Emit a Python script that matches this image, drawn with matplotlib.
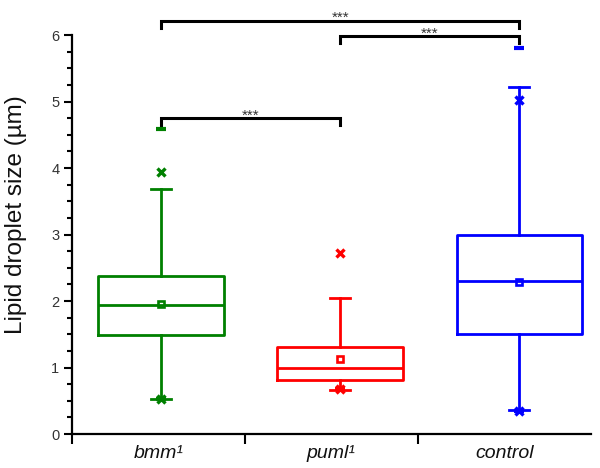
import matplotlib
matplotlib.use("Agg")
import matplotlib.pyplot as plt
from matplotlib.ticker import MultipleLocator, FixedLocator

plt.rcParams['font.family'] = ['Liberation Sans', 'DejaVu Sans']

# ---- data ----
categories = ["bmm\u00b9", "puml\u00b9", "control"]
colors = ["#008000", "#FF0000", "#0000FF"]
q1 = [1.49, 0.81, 1.50]
median = [1.94, 0.99, 2.30]
q3 = [2.37, 1.31, 2.99]
mean = [1.95, 1.13, 2.29]
whisker_low = [0.52, 0.66, 0.36]
whisker_high = [3.68, 2.05, 5.22]
pct_low = [0.53, 0.68, 0.35]      # x markers (1st percentile)
pct_high = [3.94, 2.72, 5.03]     # x markers (99th percentile)
data_min = [0.52, 0.67, 0.35]
data_max = [4.58, float('nan'), 5.80]   # puml max hidden under its x marker

# significance brackets: (left group, right group, height, label)
brackets = [(0, 2, 6.215, "***"), (1, 2, 5.985, "***"), (0, 1, 4.75, "***")]
bracket_drop = 0.11

positions = [1, 2, 3]
boundary_ticks = [0.503, 1.469, 2.434]
label_pos = [0.986, 1.951, 2.917]

fig = plt.figure(figsize=(6.0, 4.68), dpi=100)
ax = fig.add_axes([0.12, 0.0726, 0.865, 0.8526])

stats = []
for i in range(3):
    stats.append(dict(med=median[i], q1=q1[i], q3=q3[i], whislo=whisker_low[i],
                      whishi=whisker_high[i], mean=mean[i], fliers=[]))

for i in range(3):
    c = colors[i]
    ax.bxp([stats[i]], positions=[positions[i]], widths=0.70, showmeans=True,
           showfliers=False, capwidths=[0.11],
           boxprops=dict(color=c, linewidth=2.0),
           medianprops=dict(color=c, linewidth=2.0),
           whiskerprops=dict(color=c, linewidth=2.0),
           capprops=dict(color=c, linewidth=2.0),
           meanprops=dict(marker='s', markerfacecolor='none', markeredgecolor=c,
                          markersize=4.2, markeredgewidth=1.9))
    ax.plot([positions[i], positions[i]], [pct_low[i], pct_high[i]], linestyle='none',
            marker='x', markersize=6, markeredgewidth=2.4, color=c, zorder=4)
    ax.plot([positions[i], positions[i]], [data_min[i], data_max[i]], linestyle='none',
            marker='_', markersize=7, markeredgewidth=3, color=c, zorder=4)

for a, b, h, lab in brackets:
    xa, xb = positions[a], positions[b]
    ax.plot([xa, xa, xb, xb], [h - bracket_drop, h, h, h - bracket_drop],
            color='black', linewidth=2.2, clip_on=False, solid_joinstyle='miter')
    ax.text((xa + xb) / 2, h - 0.02, lab, ha='center', va='baseline', fontsize=11,
            color='#333333', clip_on=False)

ax.set_xlim(0.503, 3.40)
ax.set_ylim(0, 6)

for s in ['top', 'right']:
    ax.spines[s].set_visible(False)
for s in ['left', 'bottom']:
    ax.spines[s].set_linewidth(1.6)

ax.yaxis.set_major_locator(MultipleLocator(1))
ax.yaxis.set_minor_locator(MultipleLocator(0.25))
ax.tick_params(axis='y', which='major', length=6, width=1.5, labelsize=10.5,
               pad=3, labelcolor='#333333')
ax.tick_params(axis='y', which='minor', length=3.5, width=1.5)

ax.xaxis.set_major_locator(FixedLocator(boundary_ticks))
ax.xaxis.set_major_formatter(plt.NullFormatter())
ax.xaxis.set_minor_locator(FixedLocator(label_pos))
ax.set_xticks(label_pos, categories, minor=True)
ax.tick_params(axis='x', which='major', length=7, width=1.5)
ax.tick_params(axis='x', which='minor', length=0, pad=8, labelsize=14)
for t in ax.get_xticklabels(minor=True):
    t.set_fontstyle('italic')
    t.set_color('#111111')

ax.set_ylabel("Lipid droplet size (\u00b5m)", fontsize=17.5, color='#111111')
ax.yaxis.set_label_coords(-0.087, 0.55)

fig.savefig("out.png", dpi=100)
